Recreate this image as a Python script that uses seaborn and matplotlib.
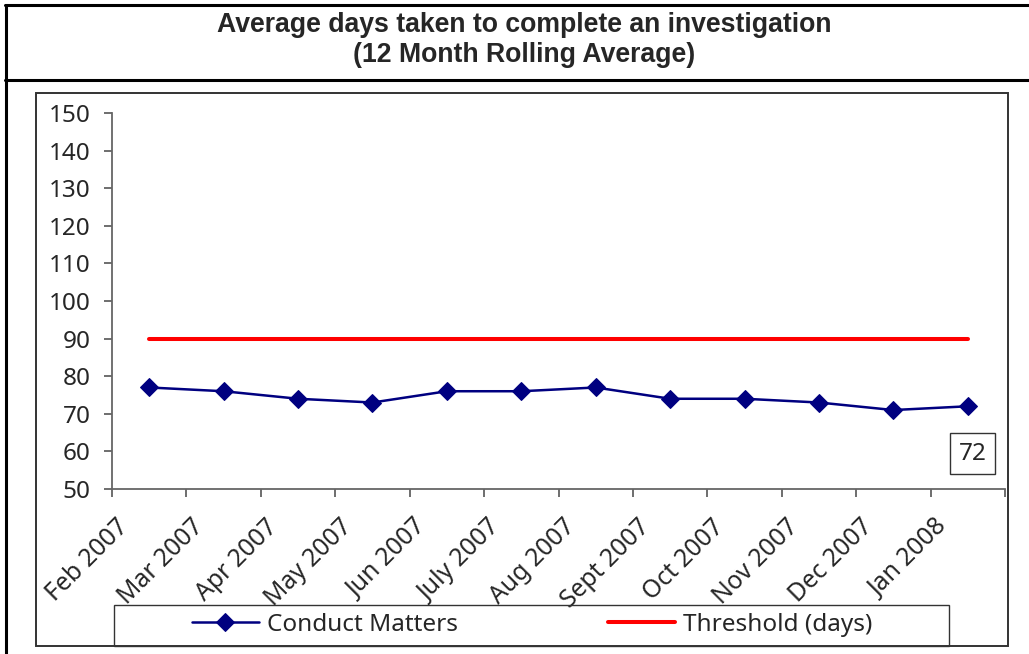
import numpy as np
import pandas as pd
import matplotlib
matplotlib.use('Agg')
import matplotlib.pyplot as plt
import matplotlib.transforms as mtransforms
from matplotlib.patches import Rectangle
from matplotlib.lines import Line2D
import seaborn as sns

# chart data
months = ['Feb 2007', 'Mar 2007', 'Apr 2007', 'May 2007', 'Jun 2007', 'July 2007',
          'Aug 2007', 'Sept 2007', 'Oct 2007', 'Nov 2007', 'Dec 2007', 'Jan 2008']
conduct_days = [77, 76, 74, 73, 76, 76, 77, 74, 74, 73, 71, 72]
threshold_days = [90, 90, 90, 90, 90, 90, 90, 90, 90, 90, 90, 90]
y_ticks = [50, 60, 70, 80, 90, 100, 110, 120, 130, 140, 150]

df = pd.DataFrame({'pos': range(len(months)), 'month': months,
                   'Conduct Matters': conduct_days,
                   'Threshold (days)': threshold_days})

sns.set_style('ticks')
plt.rcParams['font.family'] = ['Noto Sans', 'DejaVu Sans']

W, H = 1029, 654
fig = plt.figure(figsize=(W / 100, H / 100), dpi=100)


# helpers: pixel -> figure fraction
def fx(px):
    return px / W


def fy(py):
    return 1 - py / H


ax = fig.add_axes([fx(112), fy(489), fx(1005) - fx(112), fy(113) - fy(489)])
ax.set_facecolor('none')

sns.lineplot(data=df, x='pos', y='Conduct Matters', color='#000080', linewidth=1.8,
             marker='D', markersize=8.8, markeredgecolor='#000080',
             ax=ax, label='Conduct Matters')
sns.lineplot(data=df, x='pos', y='Threshold (days)', color='#FF0000', linewidth=2.9,
             ax=ax, label='Threshold (days)')
handles, labels = ax.get_legend_handles_labels()
ax.get_legend().remove()

# axes setup
ax.set_xlim(-0.5, len(months) - 0.5)
ax.set_ylim(50, 150)
ax.set_yticks(y_ticks)
ax.set_xticks(range(len(months)))
ax.set_xticklabels(months, rotation=45, ha='right', va='center', rotation_mode='anchor')
ax.set_xticks(np.arange(-0.5, len(months), 1), minor=True)
ax.tick_params(axis='x', which='major', bottom=True, length=0, pad=0, labelsize=17.8)
ax.tick_params(axis='x', which='minor', bottom=True, length=5.5, width=1.2,
               direction='out', color='#555555')
ax.tick_params(axis='y', left=True, length=5.8, width=1.2, pad=9.4, direction='out',
               color='#555555', labelsize=17.5)
ax.set_xlabel('')
ax.set_ylabel('')
sns.despine(ax=ax)
for side in ['left', 'bottom']:
    ax.spines[side].set_color('#666666')
    ax.spines[side].set_linewidth(1.3)

# shift the rotated month labels like the original
shift = mtransforms.ScaledTranslation(-0.24, -0.34, fig.dpi_scale_trans)
for lab in ax.get_xticklabels():
    lab.set_transform(lab.get_transform() + shift)

# data label on last point
ax.annotate(str(conduct_days[-1]), xy=(len(months) - 1, conduct_days[-1]),
            xytext=(3.6, -34), textcoords='offset points', ha='center', va='center',
            fontsize=17.5, bbox=dict(boxstyle='square,pad=0.35', fc='white',
                                     ec='#333333', lw=1))

# legend
fig.legend(handles, labels, loc='center left', bbox_to_anchor=(fx(192), fy(625)),
           ncol=2, frameon=False, fontsize=17.5, handlelength=2.75, handletextpad=0.33,
           columnspacing=6.17, borderpad=0, borderaxespad=0)
fig.add_artist(Rectangle((fx(114), fy(646)), fx(949) - fx(114), fy(605) - fy(646),
                         fill=False, ec='#333333', lw=1, transform=fig.transFigure))

# outer frame and title box
fig.add_artist(Line2D([fx(6), fx(6)], [fy(5), 0], color='black', lw=2.2))
fig.add_artist(Line2D([fx(5), 1], [fy(5), fy(5)], color='black', lw=2.2))
fig.add_artist(Line2D([fx(5), 1], [fy(80), fy(80)], color='black', lw=2.2))
fig.add_artist(Rectangle((fx(36), fy(646)), fx(1008) - fx(36), fy(93) - fy(646),
                         fill=False, ec='#333333', lw=1.4, transform=fig.transFigure))

fig.text(fx(524), fy(40), 'Average days taken to complete an investigation\n(12 Month Rolling Average)',
         ha='center', va='center', fontsize=19.2, fontweight='bold',
         family='Liberation Sans', linespacing=1.15)

fig.savefig('out.png', dpi=100)
